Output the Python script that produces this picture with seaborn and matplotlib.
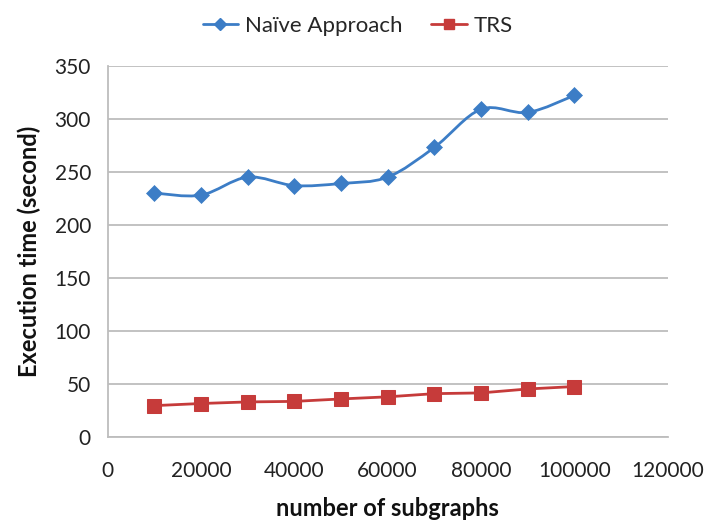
import numpy as np
import pandas as pd
import matplotlib
matplotlib.use("Agg")
import matplotlib.pyplot as plt
from matplotlib.path import Path
from matplotlib.patches import PathPatch
from matplotlib.lines import Line2D
import seaborn as sns

# Measured execution times
subgraphs = [10000, 20000, 30000, 40000, 50000, 60000, 70000, 80000, 90000, 100000]
naive_times = [230, 228, 245, 237, 239, 245, 273, 309, 306, 322]
trs_times = [29.5, 31.5, 33, 33.5, 35.8, 37.8, 40.8, 41.5, 45.2, 47.5]

x_ticks = [0, 20000, 40000, 60000, 80000, 100000, 120000]
y_ticks = [0, 50, 100, 150, 200, 250, 300, 350]

BLUE = "#3C7DC6"
RED = "#C63B3A"
GRID = "#BDBDBD"

sns.set_theme(style="white")
plt.rcParams["font.family"] = ["Lato", "DejaVu Sans"]

df = pd.DataFrame({"subgraphs": subgraphs, "Naïve Approach": naive_times, "TRS": trs_times})

fig = plt.figure(figsize=(7.08, 5.22), dpi=100)
ax = fig.add_axes([0.152, 0.163, 0.791, 0.711])


def smooth_path(xs, ys, k=1 / 6):
    """Cubic Bezier path through all points (Catmull-Rom style tangents)."""
    pts = np.column_stack([xs, ys]).astype(float)
    verts = [pts[0]]
    codes = [Path.MOVETO]
    n = len(pts)
    for i in range(n - 1):
        p0 = pts[i - 1] if i > 0 else pts[i]
        p1 = pts[i]
        p2 = pts[i + 1]
        p3 = pts[i + 2] if i + 2 < n else pts[i + 1]
        c1 = p1 + (p2 - p0) * k
        c2 = p2 - (p3 - p1) * k
        verts += [c1, c2, p2]
        codes += [Path.CURVE4] * 3
    return Path(verts, codes)


# Smoothed line for the naive approach
ax.add_patch(PathPatch(smooth_path(df["subgraphs"], df["Naïve Approach"]),
                       facecolor="none", edgecolor=BLUE, lw=2.0, zorder=3,
                       capstyle="round", joinstyle="round"))
sns.scatterplot(data=df, x="subgraphs", y="Naïve Approach", ax=ax, marker="D",
                s=66, color=BLUE, edgecolor=BLUE, linewidth=0.5, zorder=4)

# Straight line for TRS
sns.lineplot(data=df, x="subgraphs", y="TRS", ax=ax, color=RED, lw=2.0,
             marker="s", markersize=10, markeredgecolor=RED, zorder=4)

ax.set_xlim(0, 120000)
ax.set_ylim(0, 350)
ax.set_xticks(x_ticks)
ax.set_yticks(y_ticks)
ax.set_xticklabels([str(v) for v in x_ticks])
ax.set_yticklabels([str(v) for v in y_ticks])
ax.tick_params(axis="both", labelsize=15, colors="#222222", length=6,
               width=1, direction="out", color=GRID, pad=6)
ax.tick_params(axis="x", pad=11)

ax.yaxis.grid(True, color=GRID, lw=1.3)
ax.xaxis.grid(False)
ax.set_axisbelow(True)
for side in ["top", "right"]:
    ax.spines[side].set_visible(False)
for side in ["left", "bottom"]:
    ax.spines[side].set_color(GRID)
    ax.spines[side].set_linewidth(1.3)

ax.set_xlabel("number of subgraphs", fontsize=17, fontweight="bold",
              color="#111111", labelpad=12)
ax.set_ylabel("Execution time (second)", fontsize=17, fontweight="bold",
              color="#111111", labelpad=10)

handles = [
    Line2D([], [], color=BLUE, lw=2.0, marker="D", markersize=6),
    Line2D([], [], color=RED, lw=2.0, marker="s", markersize=7),
]
fig.legend(handles, ["Naïve Approach", "TRS"], loc="upper center",
           bbox_to_anchor=(0.505, 1.008), ncol=2, frameon=False, fontsize=16,
           handlelength=1.6, handletextpad=0.3, columnspacing=1.3)

fig.savefig("out.png", dpi=100)
